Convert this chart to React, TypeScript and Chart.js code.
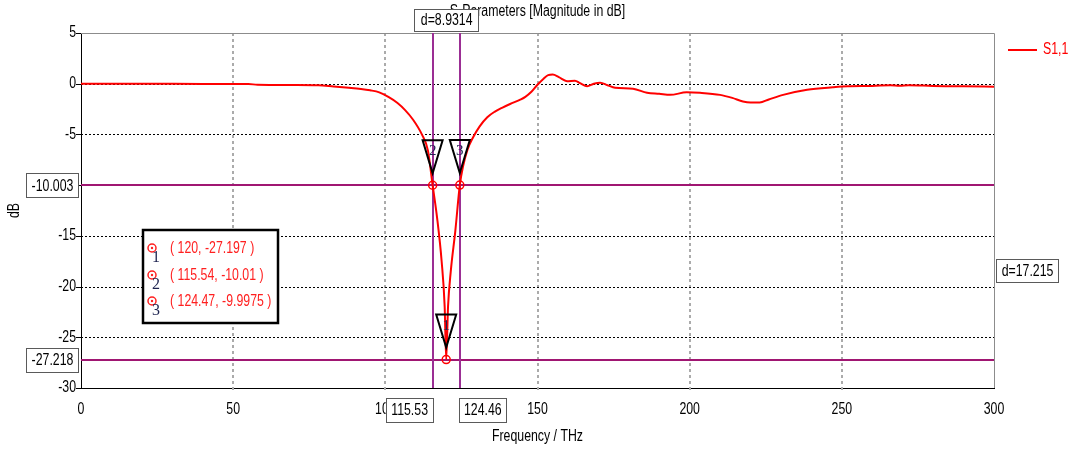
import { useEffect, useRef } from 'react';
import { Chart, registerables } from 'chart.js';

Chart.register(...registerables);

const FONT = '"Liberation Sans", Arial, sans-serif';
const SERIF = '"Liberation Serif", "DejaVu Serif", serif';
const NARROW = 0.77;
const FS = 16;

// Frequency (THz) and S1,1 magnitude (dB)
const freqTHz = [
  0, 20, 40, 55, 58, 70, 78, 83, 88, 92, 95, 98, 101, 104, 106.5, 109, 112, 114,
  115.54, 117, 118.5, 119.5, 120, 120.6, 121.5, 123, 124.47, 125.5, 127, 128.8,
  131, 133.5, 136, 138.5, 141, 144.5, 146, 148, 150, 152, 153.5, 155, 157, 159.7,
  162.3, 164, 166.3, 168.5, 170.6, 173, 175.5, 181.4, 186, 190, 193.6, 199, 203.4,
  210, 214, 217.5, 220, 223, 226, 230.7, 238.6, 247, 252, 260, 266, 269, 272, 280,
  290, 300,
];
const s11dB = [
  0, 0, -0.02, -0.03, -0.1, -0.12, -0.15, -0.27, -0.4, -0.52, -0.65, -0.85, -1.3,
  -1.9, -2.6, -3.5, -5.0, -6.6, -10.01, -13.2, -17.5, -22, -27.197, -22, -18.5,
  -14.5, -9.9975, -8.2, -6.5, -5.3, -4.2, -3.3, -2.75, -2.35, -2.0, -1.55, -1.3,
  -0.8, -0.1, 0.5, 0.85, 0.9, 0.65, 0.25, 0.3, 0.05, -0.25, 0, 0.1, -0.15, -0.4,
  -0.5, -0.9, -1.0, -1.1, -0.85, -0.9, -1.1, -1.4, -1.75, -1.85, -1.85, -1.55,
  -1.1, -0.6, -0.35, -0.25, -0.22, -0.15, -0.2, -0.15, -0.22, -0.25, -0.3,
];

const xTickValues = [0, 50, 100, 150, 200, 250, 300];
const yTickValues = [5, 0, -5, -10, -15, -20, -25, -30];

const markerIds = ['1', '2', '3'];
const markerFreq = [120, 115.54, 124.47];
const markerDb = [-27.197, -10.01, -9.9975];
const markerLabels = ['( 120, -27.197 )', '( 115.54, -10.01 )', '( 124.47, -9.9975 )'];

const hLevels = [-10.003, -27.218];
const hLevelLabels = ['-10.003', '-27.218'];
const vLevels = [115.53, 124.46];
const vLevelLabels = ['115.53', '124.46'];
const deltaXLabel = 'd=8.9314';
const deltaYLabel = 'd=17.215';

const seriesName = 'S1,1';
const titleText = 'S-Parameters [Magnitude in dB]';
const xTitle = 'Frequency / THz';
const yTitle = 'dB';

function text(
  ctx: CanvasRenderingContext2D,
  t: string,
  x: number,
  y: number,
  align: CanvasTextAlign = 'center',
  color = '#000',
  size = FS,
  rotate = 0,
) {
  ctx.save();
  ctx.translate(x, y);
  if (rotate) ctx.rotate(rotate);
  ctx.scale(NARROW, 1);
  ctx.font = `${size}px ${FONT}`;
  ctx.fillStyle = color;
  ctx.textAlign = align;
  ctx.textBaseline = 'middle';
  ctx.fillText(t, 0, 0);
  ctx.restore();
}

function boxText(ctx: CanvasRenderingContext2D, t: string, x0: number, y0: number, w: number, h: number) {
  ctx.save();
  ctx.setLineDash([]);
  ctx.fillStyle = '#fff';
  ctx.fillRect(x0, y0, w, h);
  ctx.strokeStyle = '#5a5a5a';
  ctx.lineWidth = 1;
  ctx.strokeRect(Math.round(x0) + 0.5, Math.round(y0) + 0.5, Math.round(w), Math.round(h));
  ctx.restore();
  text(ctx, t, x0 + w / 2 + 0.5, y0 + h / 2 + 1);
}

const overlay = {
  id: 'overlay',
  beforeDatasetsDraw(chart: any) {
    const { ctx, chartArea: a, scales } = chart;
    const x = scales.x;
    const y = scales.y;
    ctx.save();
    // vertical grid (gray dashed)
    ctx.strokeStyle = '#ababab';
    ctx.lineWidth = 2;
    ctx.setLineDash([3, 3]);
    for (const v of xTickValues) {
      if (v === 0 || v === 300) continue;
      const px = Math.round(x.getPixelForValue(v));
      ctx.beginPath();
      ctx.moveTo(px, a.top);
      ctx.lineTo(px, a.bottom + 5);
      ctx.stroke();
    }
    // horizontal grid (black dotted)
    ctx.strokeStyle = '#000';
    ctx.lineWidth = 1;
    ctx.setLineDash([2, 2]);
    for (const v of yTickValues) {
      if (v === 5 || v === -30) continue;
      const py = Math.round(y.getPixelForValue(v)) + 0.5;
      ctx.beginPath();
      ctx.moveTo(a.left, py);
      ctx.lineTo(a.right, py);
      ctx.stroke();
    }
    ctx.setLineDash([]);
    // y tick marks
    ctx.strokeStyle = '#000';
    for (const v of yTickValues) {
      const py = Math.round(y.getPixelForValue(v)) + 0.5;
      ctx.beginPath();
      ctx.moveTo(a.left - 5, py);
      ctx.lineTo(a.left, py);
      ctx.stroke();
    }
    // top / right frame
    ctx.strokeStyle = '#8c8c8c';
    ctx.beginPath();
    ctx.moveTo(a.left, Math.round(a.top) + 0.5);
    ctx.lineTo(Math.round(a.right) + 0.5, Math.round(a.top) + 0.5);
    ctx.lineTo(Math.round(a.right) + 0.5, a.bottom);
    ctx.stroke();
    // purple horizontal level lines
    ctx.strokeStyle = '#a01672';
    ctx.lineWidth = 2;
    for (const v of hLevels) {
      const py = Math.round(y.getPixelForValue(v));
      ctx.beginPath();
      ctx.moveTo(a.left, py);
      ctx.lineTo(a.right, py);
      ctx.stroke();
    }
    // purple vertical lines
    ctx.strokeStyle = '#9b2e94';
    for (const v of vLevels) {
      const px = Math.round(x.getPixelForValue(v));
      ctx.beginPath();
      ctx.moveTo(px, a.top);
      ctx.lineTo(px, a.bottom);
      ctx.stroke();
    }
    ctx.restore();

    // tick labels
    for (const v of yTickValues) {
      text(ctx, String(v), a.left - 5, y.getPixelForValue(v), 'right');
    }
    for (const v of xTickValues) {
      text(ctx, String(v), x.getPixelForValue(v), a.bottom + 22, 'center');
    }
  },
  afterDatasetsDraw(chart: any) {
    const { ctx, chartArea: a, scales } = chart;
    const x = scales.x;
    const y = scales.y;
    ctx.save();
    ctx.setLineDash([]);
    // markers on curve
    markerFreq.forEach((f, i) => {
      const px = x.getPixelForValue(f);
      const py = y.getPixelForValue(markerDb[i]);
      ctx.strokeStyle = '#ff0000';
      ctx.lineWidth = 1.5;
      ctx.beginPath();
      ctx.arc(px, py, 4, 0, Math.PI * 2);
      ctx.stroke();
      // triangle
      const top = py - 45;
      const tip = py - 12;
      ctx.strokeStyle = '#000';
      ctx.lineWidth = 2;
      ctx.beginPath();
      ctx.moveTo(px - 10, top);
      ctx.lineTo(px + 10, top);
      ctx.lineTo(px, tip);
      ctx.closePath();
      ctx.stroke();
      ctx.fillStyle = '#1e2450';
      ctx.font = `15px ${SERIF}`;
      ctx.textAlign = 'center';
      ctx.textBaseline = 'middle';
      ctx.fillText(markerIds[i], px, top + 11);
    });
    ctx.restore();

    // level value boxes
    const vx0 = x.getPixelForValue(vLevels[0]);
    const vx1 = x.getPixelForValue(vLevels[1]);
    const hy0 = y.getPixelForValue(hLevels[0]);
    const hy1 = y.getPixelForValue(hLevels[1]);
    boxText(ctx, deltaYLabel, a.right + 2, (hy0 + hy1) / 2 - 13, 62, 23);
    hLevels.forEach((v, i) => {
      const py = y.getPixelForValue(v);
      boxText(ctx, hLevelLabels[i], 26, py - 12, 52, 24);
    });
    boxText(ctx, vLevelLabels[0], vx0 - 47, a.bottom + 10, 47, 24);
    boxText(ctx, vLevelLabels[1], vx1 - 1, a.bottom + 10, 47, 24);

    // marker info box
    ctx.save();
    ctx.fillStyle = '#fff';
    ctx.fillRect(143, 230, 135, 93);
    ctx.strokeStyle = '#000';
    ctx.lineWidth = 2.5;
    ctx.strokeRect(143, 230, 135, 93);
    const rows = [248, 275, 301];
    markerLabels.forEach((t, i) => {
      const ry = rows[i];
      ctx.strokeStyle = '#ff2020';
      ctx.lineWidth = 1.5;
      ctx.beginPath();
      ctx.arc(152, ry, 4, 0, Math.PI * 2);
      ctx.stroke();
      ctx.fillStyle = '#ff2020';
      ctx.beginPath();
      ctx.arc(152, ry, 1.2, 0, Math.PI * 2);
      ctx.fill();
      ctx.fillStyle = '#1e2450';
      ctx.font = `16px ${SERIF}`;
      ctx.textAlign = 'center';
      ctx.textBaseline = 'middle';
      ctx.fillText(markerIds[i], 156, ry + 10);
      text(ctx, t, 170, ry + 1, 'left', '#ff2020');
    });
    ctx.restore();
  },
  afterDraw(chart: any) {
    const { ctx, chartArea: a } = chart;
    text(ctx, titleText, (a.left + a.right) / 2, 12);
    const x = chart.scales.x;
    const vx0 = x.getPixelForValue(vLevels[0]);
    const vx1 = x.getPixelForValue(vLevels[1]);
    boxText(ctx, deltaXLabel, (vx0 + vx1) / 2 - 32, 9, 64, 22);
    text(ctx, xTitle, (a.left + a.right) / 2, 437);
    text(ctx, yTitle, 15, (a.top + a.bottom) / 2, 'center', '#000', FS, -Math.PI / 2);
    // legend
    ctx.save();
    ctx.strokeStyle = '#ff0000';
    ctx.lineWidth = 2;
    ctx.beginPath();
    ctx.moveTo(1008, 50);
    ctx.lineTo(1037, 50);
    ctx.stroke();
    ctx.restore();
    text(ctx, seriesName, 1043, 50, 'left', '#ff0000');
  },
};

export default function App() {
  const ref = useRef<HTMLCanvasElement>(null);
  useEffect(() => {
    if (!ref.current) return;
    Chart.defaults.font.family = FONT;
    const chart = new Chart(ref.current, {
      type: 'line',
      data: {
        datasets: [
          {
            label: seriesName,
            data: freqTHz.map((f, i) => ({ x: f, y: s11dB[i] })),
            borderColor: '#ff0000',
            borderWidth: 2,
            pointRadius: 0,
            cubicInterpolationMode: 'monotone',
            fill: false,
          },
        ],
      },
      options: {
        animation: false,
        responsive: false,
        maintainAspectRatio: false,
        layout: { padding: { left: 0, top: 33, right: 78, bottom: 0 } },
        plugins: { legend: { display: false }, tooltip: { enabled: false }, title: { display: false } },
        scales: {
          x: {
            type: 'linear',
            min: 0,
            max: 300,
            afterFit: (s: any) => { s.height = 65; },
            ticks: { display: false, stepSize: 50 },
            grid: { display: false },
            border: { display: true, color: '#000', width: 1 },
          },
          y: {
            type: 'linear',
            min: -30,
            max: 5,
            afterFit: (s: any) => { s.width = 81; },
            ticks: { display: false, stepSize: 5 },
            grid: { display: false },
            border: { display: true, color: '#000', width: 1 },
          },
        },
      },
      plugins: [overlay],
    } as any);
    return () => chart.destroy();
  }, []);
  return (
    <div style={{ position: 'fixed', left: 0, top: 0, width: 1072, height: 453, background: '#fff' }}>
      <canvas ref={ref} width={1072} height={453} style={{ width: 1072, height: 453, display: 'block' }} />
    </div>
  );
}
